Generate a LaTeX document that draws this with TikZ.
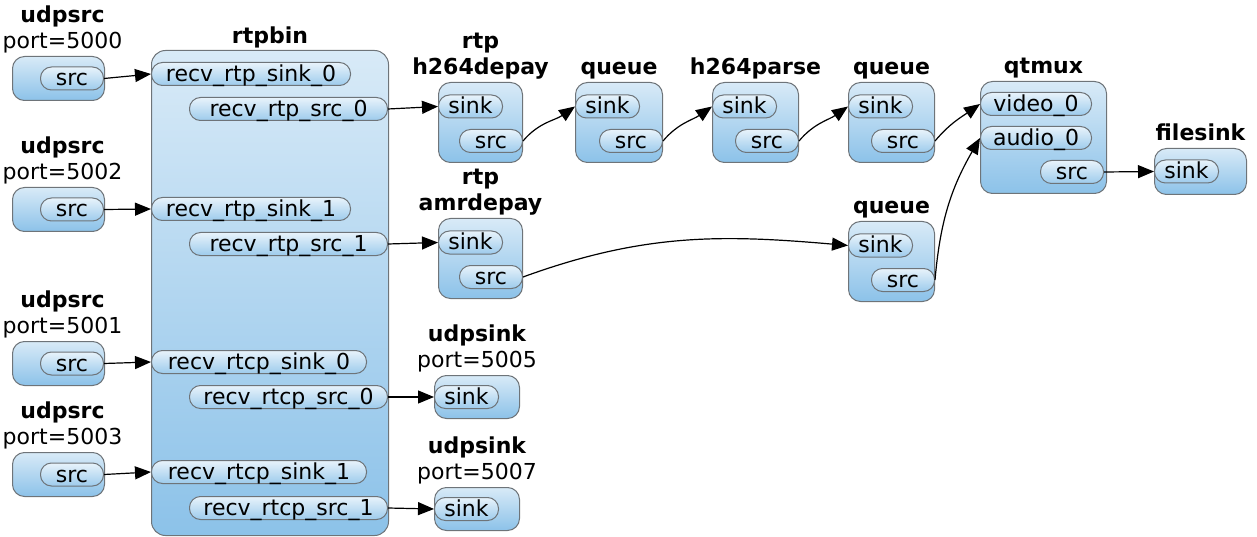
\documentclass[tikz,border=0pt]{standalone}
\usepackage{fontspec}
\setmainfont{DejaVu Sans}
\usetikzlibrary{arrows.meta,positioning}
\definecolor{elTop}{HTML}{D8EAF7}
\definecolor{elBot}{HTML}{8CC2E9}
\definecolor{padTop}{HTML}{E8F3FB}
\definecolor{padBot}{HTML}{9DCBEC}
\definecolor{rim}{HTML}{6E7479}
\begin{document}
\begin{tikzpicture}[x=1pt,y=-1pt,
  elem/.style={draw=rim,line width=1pt,rounded corners=12pt,top color=elTop,bottom color=elBot,anchor=north west,inner sep=0pt},
  pad/.style={draw=rim,line width=1pt,rounded corners=11pt,top color=padTop,bottom color=padBot,minimum height=23pt,inner sep=0pt,text height=16pt,text depth=1pt,font=\fontsize{22}{25}\selectfont},
  title/.style={inner sep=0pt,text depth=0pt,align=center,font=\fontsize{22}{26}\selectfont\bfseries},
  conn/.style={-{Triangle[length=16pt,width=13pt]},line width=1.2pt}]
\useasboundingbox (0,0) rectangle (1257,537);
% sources on the left
\foreach \n/\y/\p in {1/56/5000,2/187/5002,3/341/5001,4/452/5003}{
  \node[elem,minimum width=92pt,minimum height=44pt] (us\n) at (12,\y) {};
  \node[title,above=7pt of us\n,xshift=4pt] {udpsrc\\\mdseries port=\p};
  \node[pad,anchor=east,minimum width=63pt] (usrc\n) at ([xshift=-1pt]us\n.east) {src};
}
% rtpbin
\node[elem,rounded corners=14pt,minimum width=237pt,minimum height=485pt] (rtpbin) at (151,50) {};
\node[title,above=6pt of rtpbin] {rtpbin};
\foreach \k/\ya/\yb in {0/74/109,1/209/244}{
  \node[pad,anchor=west,minimum width=199pt] (rsink\k) at (151,\ya) {recv\_rtp\_sink\_\k};
  \node[pad,anchor=east,minimum width=198pt] (rsrc\k) at (388,\yb) {recv\_rtp\_src\_\k};
}
\foreach \k/\ya/\yb in {0/362/397,1/472/508}{
  \node[pad,anchor=west,minimum width=215pt] (rcsink\k) at (151,\ya) {recv\_rtcp\_sink\_\k};
  \node[pad,anchor=east,minimum width=198pt] (rcsrc\k) at (388,\yb) {recv\_rtcp\_src\_\k};
}
% sink/src elements
\foreach \nm/\x/\y/\w/\t in {hdepay/438/82/84/{rtp\\h264depay},queA/575/82/87/queue,
    parse/712/82/86/h264parse,queB/848/82/86/queue,
    adepay/438/218/84/{rtp\\amrdepay},queC/848/221/86/queue}{
  \node[elem,minimum width=\w pt,minimum height=80pt] (\nm) at (\x,\y) {};
  \node[title,above=7pt of \nm] {\t};
  \node[pad,anchor=west,minimum width=64pt] (\nm-sink) at ([yshift=-24.5pt]\nm.north west) {sink};
  \node[pad,anchor=east,minimum width=63pt] (\nm-src) at ([yshift=-59pt]\nm.north east) {src};
}
% qtmux and filesink
\node[elem,minimum width=126pt,minimum height=112pt] (mux) at (980,81) {};
\node[title,above=7pt of mux] {qtmux};
\node[pad,anchor=west,minimum width=111pt] (mux-video) at (980,104) {video\_0};
\node[pad,anchor=west,minimum width=111pt] (mux-audio) at (980,138) {audio\_0};
\node[pad,anchor=east,minimum width=63pt] (mux-src) at (1104,172) {src};
\node[elem,minimum width=92pt,minimum height=46pt] (fsink) at (1154,148) {};
\node[title,above=7pt of fsink] {filesink};
\node[pad,anchor=west,minimum width=64pt] (fsink-sink) at (fsink.west) {sink};
% udpsinks
\foreach \k/\y/\p in {1/375/5005,2/487/5007}{
  \node[elem,minimum width=85pt,minimum height=43pt] (usink\k) at (434,\y) {};
  \node[title,above=7pt of usink\k] {udpsink\\\mdseries port=\p};
  \node[pad,anchor=west,minimum width=64pt] (usink\k-sink) at (usink\k.west) {sink};
}
% links
\foreach \a/\b in {usrc1/rsink0,usrc2/rsink1,usrc3/rcsink0,usrc4/rcsink1,
    rsrc0/hdepay-sink,rsrc1/adepay-sink,rcsrc0/usink1-sink,rcsrc1/usink2-sink,mux-src/fsink-sink}
  \draw[conn] (\a.east) -- (\b.west);
\foreach \a/\b in {hdepay-src/queA-sink,queA-src/parse-sink,parse-src/queB-sink,queB-src/mux-video}
  \draw[conn] (\a.east) to[out=50,in=215] (\b.west);
\draw[conn] (adepay-src.east) to[out=20,in=175] (queC-sink.west);
\draw[conn] (queC-src.east) to[out=85,in=240] (mux-audio.west);
\end{tikzpicture}
\end{document}
